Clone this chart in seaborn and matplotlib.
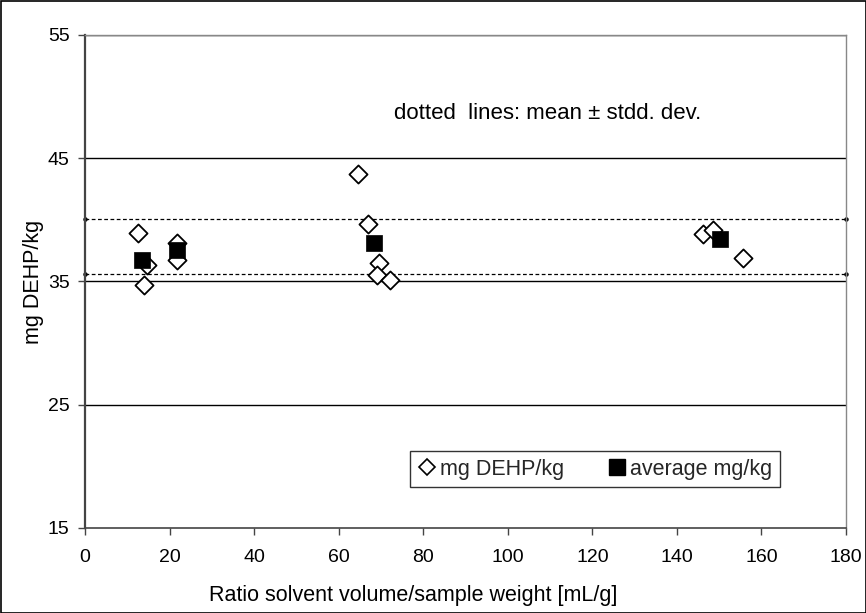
import matplotlib
matplotlib.use("Agg")
import matplotlib.pyplot as plt
import seaborn as sns
import pandas as pd
from matplotlib.patches import Rectangle
from matplotlib.lines import Line2D

# data
ratio_individual = [12.6, 14.6, 13.9, 21.8, 21.8, 64.6, 66.9, 69.5, 69.0, 72.1, 146.2, 148.6, 155.7]
dehp_individual = [38.96, 36.36, 34.74, 38.15, 36.76, 43.76, 39.69, 36.52, 35.49, 35.14, 38.88, 39.15, 36.93]
ratio_average = [13.4, 21.7, 68.4, 150.2]
dehp_average = [36.77, 37.52, 38.12, 38.41]
mean_plus_sd = 40.1
mean_minus_sd = 35.57
x_ticks = [0, 20, 40, 60, 80, 100, 120, 140, 160, 180]
y_ticks = [15, 25, 35, 45, 55]

sns.set_theme(style="white")
plt.rcParams['font.family'] = ['Liberation Sans', 'DejaVu Sans']

fig = plt.figure(figsize=(8.66, 6.13), dpi=100)
ax = fig.add_axes([85/866, 1-528/613, (846-85)/866, (528-35)/613])

df_ind = pd.DataFrame({"ratio": ratio_individual, "dehp": dehp_individual})
df_avg = pd.DataFrame({"ratio": ratio_average, "dehp": dehp_average})

for yv in [25, 35, 45, 55]:
    ax.axhline(yv, color="black", lw=1.0, zorder=1)
for yv in [mean_plus_sd, mean_minus_sd]:
    ax.plot([x_ticks[0], x_ticks[-1]], [yv, yv], color="black", lw=0.9, ls=(0, (3, 2)),
            marker="o", markersize=2.2, zorder=1, clip_on=False)

sns.scatterplot(data=df_ind, x="ratio", y="dehp", ax=ax, marker="D", s=85,
                facecolor="white", edgecolor="black", linewidth=1.3, zorder=3)
sns.scatterplot(data=df_avg, x="ratio", y="dehp", ax=ax, marker="s", s=125,
                color="black", edgecolor="black", linewidth=0.5, zorder=4)

ax.set_xlim(0, 180)
ax.set_ylim(15, 55)
ax.set_xticks(x_ticks)
ax.set_yticks(y_ticks)
ax.tick_params(axis="both", direction="out", length=5, width=1, color="#444444",
               labelsize=14, bottom=True, left=True, labelcolor="black")
ax.tick_params(axis="x", pad=10)
ax.tick_params(axis="y", pad=6)
for side in ["top", "right"]:
    ax.spines[side].set_color("#888888")
    ax.spines[side].set_linewidth(1.0)
ax.spines["left"].set_color("#444444")
ax.spines["left"].set_linewidth(1.6)
ax.spines["bottom"].set_color("#444444")
ax.spines["bottom"].set_linewidth(1.2)

ax.set_xlabel("Ratio solvent volume/sample weight [mL/g]", fontsize=15.5, color="black", labelpad=14)
ax.xaxis.label.set_x(0.431)
ax.set_ylabel("mg DEHP/kg", fontsize=15.5, color="black", labelpad=3)

ax.text(0.608, 0.841, "dotted  lines: mean \u00b1 stdd. dev.", transform=ax.transAxes,
        ha="center", va="center", fontsize=16, color="black")

handles = [
    Line2D([], [], marker="D", ls="none", markersize=8, markerfacecolor="white",
           markeredgecolor="black", markeredgewidth=1.2),
    Line2D([], [], marker="s", ls="none", markersize=11, markerfacecolor="black",
           markeredgecolor="black"),
]
leg = ax.legend(handles, ["mg DEHP/kg", "average mg/kg"], ncol=2, loc="center",
                bbox_to_anchor=(0.670, 0.119), fontsize=15.5,
                frameon=True, fancybox=False, edgecolor="black", handletextpad=0.15,
                columnspacing=2.0, handlelength=0.9, borderpad=0.35)
leg.get_frame().set_linewidth(1.0)

fig.patches.append(Rectangle((0.5/866, 0.5/613), 1-1/866, 1-1/613, transform=fig.transFigure,
                             fill=False, edgecolor="black", lw=1.2))

fig.savefig("out.png", dpi=100)
